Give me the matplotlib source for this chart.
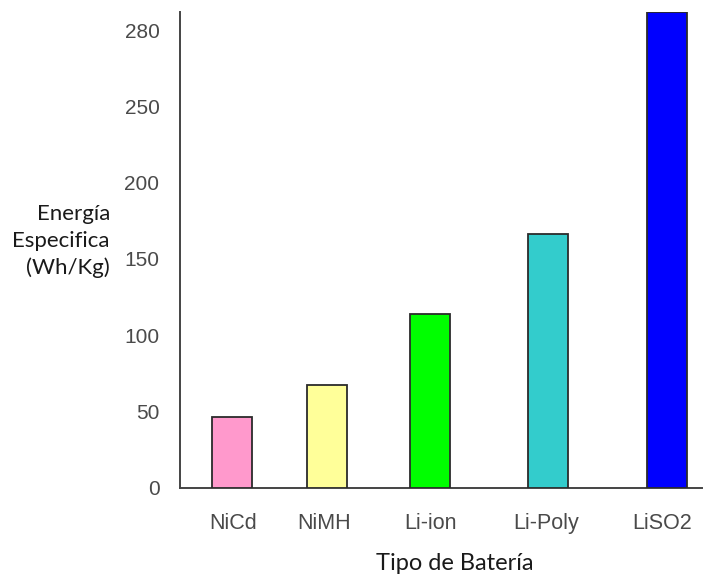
import matplotlib
matplotlib.use("Agg")
import matplotlib.pyplot as plt

# Specific energy by battery chemistry
categories = ["NiCd", "NiMH", "Li-ion", "Li-Poly", "LiSO2"]
energy_wh_kg = [46.6, 67.4, 114, 166.3, 312]
bar_colors = ["#FF99CC", "#FFFF99", "#00FF00", "#33CCCC", "#0000FF"]
ytick_values = [0, 50, 100, 150, 200, 250, 300]
ytick_labels = ["0", "50", "100", "150", "200", "250", "280"]

# horizontal placement of bars and their labels along the axis (axis units)
bar_positions = [51.7, 146.7, 249.7, 367.7, 486.7]
label_positions = [52.7, 143.7, 249.7, 365.7, 481.7]

W, H = 707, 576
fig = plt.figure(figsize=(W / 100, H / 100), dpi=100)
left, right = 180.3, 702
top, bottom = 12, 487.7
ax = fig.add_axes([left / W, 1 - bottom / H, (right - left) / W, (bottom - top) / H])

ax.bar(bar_positions, energy_wh_kg, width=39.5, color=bar_colors,
       edgecolor="#2b2b2b", linewidth=1.3, zorder=3)

ax.set_xlim(0, right - left)
ax.set_ylim(0, 312)

ax.set_yticks(ytick_values)
ax.set_yticklabels(ytick_labels, family="Liberation Sans", fontsize=15, color="#4a4a4a")
ax.set_xticks(label_positions)
ax.set_xticklabels(categories, family="Liberation Sans", fontsize=15.5, color="#4a4a4a")
ax.tick_params(axis="both", length=0)
ax.tick_params(axis="y", pad=15)
ax.tick_params(axis="x", pad=18)

for side in ("top", "right"):
    ax.spines[side].set_visible(False)
for side in ("left", "bottom"):
    ax.spines[side].set_color("#444444")
    ax.spines[side].set_linewidth(1.4)

fig.text(110 / W, 1 - 241 / H, "Energía\nEspecifica\n(Wh/Kg)", ha="right", va="center",
         multialignment="right", family="Lato", fontsize=16, color="#1a1a1a",
         linespacing=1.42)
fig.text(455 / W, 1 - 564 / H, "Tipo de Batería", ha="center", va="center",
         family="Lato", fontsize=17, color="#1a1a1a")

fig.savefig("out.png", dpi=100, facecolor="white")
